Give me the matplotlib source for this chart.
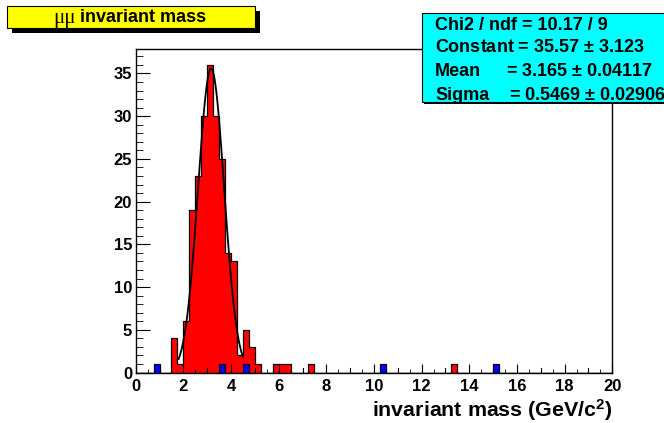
import numpy as np
import matplotlib
matplotlib.use("Agg")
import matplotlib.pyplot as plt
from matplotlib.patches import Rectangle

plt.rcParams["font.family"] = ["Liberation Sans", "DejaVu Sans"]
plt.rcParams["mathtext.fontset"] = "custom"
plt.rcParams["mathtext.rm"] = "Liberation Sans:bold"
plt.rcParams["mathtext.it"] = "Liberation Sans:bold"
plt.rcParams["mathtext.bf"] = "Liberation Sans:bold"

# histogram: 80 bins of 0.25 GeV from 0 to 20
bin_edges = np.linspace(0, 20, 81)
red_counts = [0, 0, 0, 0, 0, 0, 4, 1, 6, 19,
              23, 30, 36, 30, 25, 14, 13, 2, 5, 3,
              1, 0, 0, 1, 1, 1, 0, 0, 0, 1,
              0, 0, 0, 0, 0, 0, 0, 0, 0, 0,
              0, 0, 0, 0, 0, 0, 0, 0, 0, 0,
              0, 0, 0, 1, 0, 0, 0, 0, 0, 0,
              0, 0, 0, 0, 0, 0, 0, 0, 0, 0,
              0, 0, 0, 0, 0, 0, 0, 0, 0, 0]
blue_counts = [0] * 80
for i in [3, 14, 18, 41, 60]:
    blue_counts[i] = 1

# gaussian fit result
fit_const = 35.57
fit_mean = 3.165
fit_sigma = 0.5469
fit_range = (1.8, 4.5)

stats_lines = [
    ("Chi2 / ndf = 10.17 / 9", None),
    ("Constant = 35.57 $\\pm$ 3.123", None),
    ("Mean", "= 3.165 $\\pm$ 0.04117"),
    ("Sigma", "= 0.5469 $\\pm$ 0.02906"),
]

W, H = 664, 423
fig = plt.figure(figsize=(W / 100, H / 100), dpi=100)


def fx(px):
    return px / W


def fy(py):
    return 1 - py / H


ax = fig.add_axes([fx(135.7), fy(372.5), (612.3 - 135.7) / W, (372.5 - 49.5) / H])

ax.stairs(red_counts, bin_edges, fill=True, facecolor="#ff0000", edgecolor="none")
ax.stairs(red_counts, bin_edges, color="black", lw=0.9)
ax.stairs(blue_counts, bin_edges, fill=True, facecolor="#0000ff", edgecolor="none")
ax.stairs(blue_counts, bin_edges, color="black", lw=0.9)

xf = np.linspace(fit_range[0], fit_range[1], 100)
ax.plot(xf, fit_const * np.exp(-0.5 * ((xf - fit_mean) / fit_sigma) ** 2), color="black", lw=1.3)

ax.set_xlim(0, 20)
ax.set_ylim(0, 37.8)
ax.set_xticks(np.arange(0, 21, 2))
ax.set_xticks(np.arange(0, 20.01, 0.5), minor=True)
ax.set_yticks(np.arange(0, 36, 5))
ax.set_yticks(np.arange(0, 38, 1), minor=True)
ax.tick_params(axis="both", which="both", direction="in", top=False, right=False)
ax.tick_params(axis="x", which="major", length=6.5, pad=5, labelsize=12)
ax.tick_params(axis="x", which="minor", length=3.2)
ax.tick_params(axis="y", which="major", length=10, pad=2.5, labelsize=12)
ax.tick_params(axis="y", which="minor", length=5)
for lab in ax.get_xticklabels() + ax.get_yticklabels():
    lab.set_fontweight("bold")
for sp in ax.spines.values():
    sp.set_linewidth(1.0)

# medium ticks at odd integers
for v in range(1, 20, 2):
    ax.plot([v, v], [0, 37.8 * 0.015], color="black", lw=0.8, clip_on=False)

fig.text(fx(612), fy(410), "invariant mass (GeV/c$^{2}$)", ha="right", va="center",
         fontsize=15.4, fontweight="bold")

# title box
fig.patches.append(Rectangle((fx(11.5), fy(33.3)), (255 - 6.7) / W, (28.3 - 6) / H,
                             transform=fig.transFigure, facecolor="black", edgecolor="none"))
fig.patches.append(Rectangle((fx(6.7), fy(28.3)), (255 - 6.7) / W, (28.3 - 6) / H,
                             transform=fig.transFigure, facecolor="#ffff00", edgecolor="black", lw=0.8))
fig.text(fx(76), fy(18), "\u03bc\u03bc", ha="right", va="center", fontsize=15,
         family=["Liberation Serif", "DejaVu Serif"])
fig.text(fx(80), fy(17.5), "invariant mass", ha="left", va="center", fontsize=13, fontweight="bold")

# stats box
fig.patches.append(Rectangle((fx(424), fy(104)), 300 / W, (101.7 - 12.7) / H,
                             transform=fig.transFigure, facecolor="black", edgecolor="none"))
fig.patches.append(Rectangle((fx(421.7), fy(101.7)), 300 / W, (101.7 - 12.7) / H,
                             transform=fig.transFigure, facecolor="#00ffff", edgecolor="black", lw=0.8))
line_y = [25, 48, 72, 95]
for (left, right), py in zip(stats_lines, line_y):
    fig.text(fx(435), fy(py), left, ha="left", va="center", fontsize=13, fontweight="bold")
    if right is not None:
        rx = 506 if left == "Mean" else 509
        fig.text(fx(rx), fy(py), right, ha="left", va="center", fontsize=13, fontweight="bold")

fig.savefig("out.png", dpi=100)
